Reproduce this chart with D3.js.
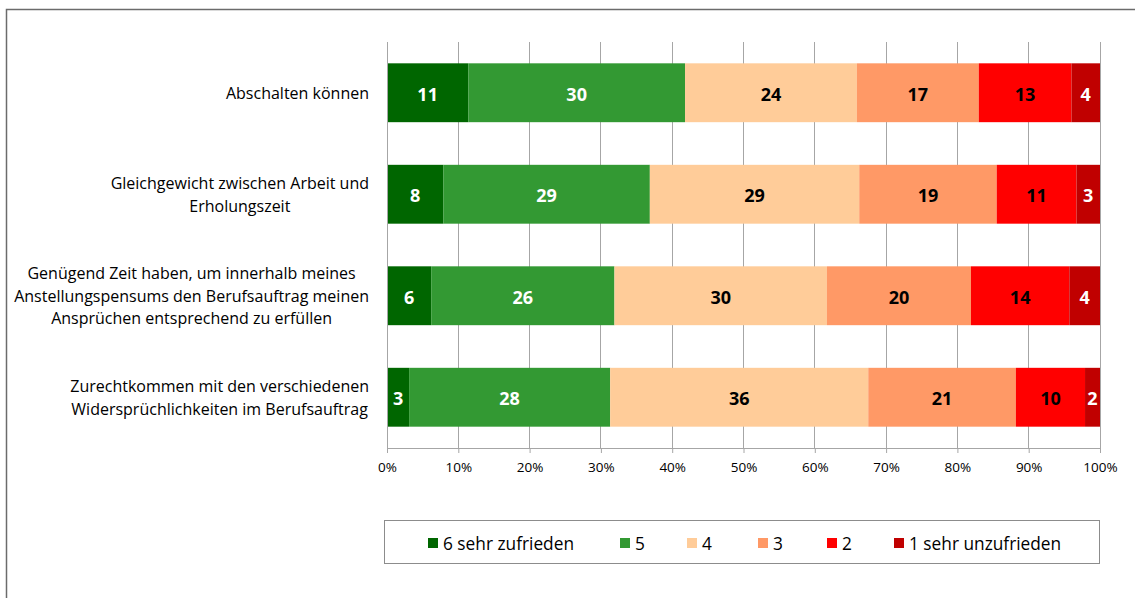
<!DOCTYPE html>
<html><head><meta charset="utf-8">
<script src="https://cdn.jsdelivr.net/npm/d3@7"></script>
<style>body{margin:0;background:#fff;} text{font-family:"Open Sans",sans-serif;}</style>
</head><body>
<svg id="chart" width="1135" height="598"></svg>
<script>
const categories = [
  ["Abschalten können"],
  ["Gleichgewicht zwischen Arbeit und", "Erholungszeit"],
  ["Genügend Zeit haben, um innerhalb meines", "Anstellungspensums den Berufsauftrag meinen", "Ansprüchen entsprechend zu erfüllen"],
  ["Zurechtkommen mit den verschiedenen", "Widersprüchlichkeiten im Berufsauftrag"]
];
const seriesNames = ["6 sehr zufrieden", "5", "4", "3", "2", "1 sehr unzufrieden"];
const s6 = [11.4, 7.9, 6.2, 3.1];
const s5 = [30.4, 29.0, 25.7, 28.2];
const s4 = [24.1, 29.4, 29.8, 36.2];
const s3 = [17.1, 19.3, 20.2, 20.7];
const s2 = [13.0, 11.2, 13.8, 9.7];
const s1 = [4.0, 3.3, 4.3, 2.1];
const tickValues = [0,10,20,30,40,50,60,70,80,90,100];

const colors = ["#006600", "#339933", "#FFCC99", "#FF9966", "#FF0000", "#C00000"];
const labelColors = ["#fff", "#fff", "#000", "#000", "#000", "#fff"];
const seriesData = [s6, s5, s4, s3, s2, s1];

const svg = d3.select("#chart");
// outer frame
svg.append("rect").attr("x", 6.5).attr("y", 9.5).attr("width", 1200).attr("height", 700)
  .attr("fill", "none").attr("stroke", "#6b6b6b").attr("stroke-width", 1.5);

const pLeft = 387, pRight = 1100, pTop = 42, pBottom = 448;
const x = d3.scaleLinear().domain([0, 100]).range([pLeft, pRight]);
const y = d3.scaleBand().domain(d3.range(categories.length)).range([pTop, pBottom]).paddingInner(0.42).paddingOuter(0.21);

// gridlines
svg.append("g").selectAll("line").data(tickValues.slice(1)).join("line")
  .attr("x1", d => x(d)).attr("x2", d => x(d)).attr("y1", pTop).attr("y2", pBottom)
  .attr("stroke", "#a6a6a6").attr("stroke-width", 1).attr("shape-rendering", "crispEdges");

// stacked data
const rows = categories.map((c, i) => {
  const vals = seriesData.map(s => s[i]);
  const total = d3.sum(vals);
  let acc = 0;
  return vals.map((v, k) => { const p = v / total * 100; const seg = {row: i, k, v, x0: acc, x1: acc + p}; acc += p; return seg; });
});

const gBars = svg.append("g");
rows.forEach(r => {
  gBars.selectAll(null).data(r).join("rect")
    .attr("x", d => x(d.x0)).attr("width", d => x(d.x1) - x(d.x0))
    .attr("y", d => y(d.row)).attr("height", y.bandwidth())
    .attr("fill", d => colors[d.k]);
  gBars.selectAll(null).data(r).join("text")
    .attr("x", d => (x(d.x0) + x(d.x1)) / 2).attr("y", d => y(d.row) + y.bandwidth() / 2 + 1)
    .attr("text-anchor", "middle").attr("dominant-baseline", "central")
    .attr("font-size", 18).attr("font-weight", "bold")
    .attr("fill", d => labelColors[d.k])
    .text(d => Math.round(d.v));
});

// axes
const xAxis = d3.axisBottom(x).tickValues(tickValues).tickFormat(d => d + "%").tickSize(5).tickSizeOuter(0);
const gx = svg.append("g").attr("transform", `translate(0,${pBottom})`).call(xAxis);
gx.select(".domain").attr("stroke", "#a6a6a6");
gx.selectAll(".tick line").attr("stroke", "#a6a6a6");
gx.selectAll(".tick text").attr("font-size", 13.5).attr("fill", "#000").attr("y", 14).attr("dy", "0.71em").attr("font-family", "Open Sans");
svg.append("line").attr("x1", pLeft).attr("x2", pLeft).attr("y1", pTop).attr("y2", pBottom)
  .attr("stroke", "#a6a6a6").attr("shape-rendering", "crispEdges");

// category labels
const labelRight = 369;
categories.forEach((lines, i) => {
  const cy = y(i) + y.bandwidth() / 2;
  const g = svg.append("g");
  const lh = 22.5;
  const t = g.append("text").attr("font-size", 16).attr("fill", "#000").attr("text-anchor", "middle");
  lines.forEach((ln, j) => {
    t.append("tspan").attr("x", 0).attr("y", cy + (j - (lines.length - 1) / 2) * lh)
      .attr("dominant-baseline", "central").text(ln);
  });
  const w = t.node().getBBox().width;
  t.attr("transform", `translate(${labelRight - w / 2},0)`);
});

// legend
svg.append("rect").attr("x", 384.5).attr("y", 520.5).attr("width", 715).attr("height", 43)
  .attr("fill", "#fff").attr("stroke", "#8c8c8c");
const legendX = [428, 620, 687, 758, 827, 894];
const lg = svg.append("g");
seriesNames.forEach((n, k) => {
  lg.append("rect").attr("x", legendX[k]).attr("y", 538).attr("width", 10).attr("height", 10).attr("fill", colors[k]);
  lg.append("text").attr("x", legendX[k] + 15).attr("y", 543).attr("dominant-baseline", "central")
    .attr("font-size", 17.3).attr("fill", "#000").text(n);
});
</script>
</body></html>
